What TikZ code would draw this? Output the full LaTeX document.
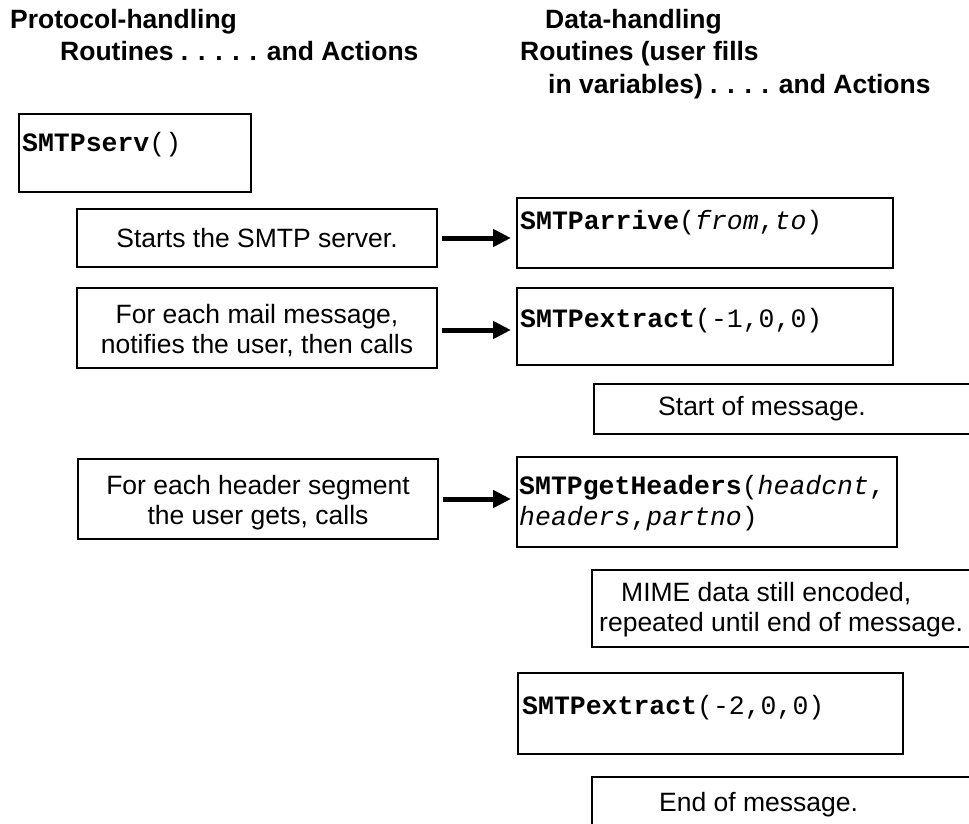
\documentclass[tikz,border=0pt]{standalone}
\usepackage{fontspec}
\setmainfont{Liberation Sans}
\newfontfamily\codefont{Liberation Mono}
\usetikzlibrary{arrows.meta}
\begin{document}
\begin{tikzpicture}[x=1pt,y=-1pt,
  box/.style={draw=black, line width=2pt, rectangle, inner sep=0pt, anchor=north west},
  body/.style={font=\fontsize{26.5}{30}\selectfont, inner sep=0pt},
  bodyl/.style={body, anchor=base west},
  head/.style={font=\fontsize{26.5}{33}\selectfont\bfseries, inner sep=0pt, anchor=base west},
  code/.style={font=\codefont\fontsize{26.5}{31}\selectfont, inner sep=0pt, anchor=base west},
  conn/.style={line width=5pt, -{Triangle[length=18pt,width=17pt]}, shorten <=4pt, shorten >=5pt}]
\useasboundingbox (0,0) rectangle (969,824);
\clip (0,0) rectangle (969,824);
\fill[white] (0,0) rectangle (969,824);

% headings
\node[head] (h1) at (10,29) {Protocol-handling};
\node[head] (h2) at (60,61) {Routines . . . . . and Actions};
\node[head] (h3) at (545,29) {Data-handling};
\node[head] (h4) at (520,61) {Routines (user fills};
\node[head] (h5) at (548,94) {in variables) . . . . and Actions};

% left column
\node[box, minimum width=232pt, minimum height=78pt] (serv) at (18,113) {};
\node[code] (servt) at (22,151) {\textbf{SMTPserv}()};

\node[box, minimum width=360pt, minimum height=58pt] (starts) at (76,208) {};
\node[body] (startst) at (starts) {Starts the SMTP server.};

\node[box, minimum width=360pt, minimum height=80pt] (foreach) at (76,287) {};
\node[body, align=center] (foreacht) at ([yshift=-3pt]foreach.center) {For each mail message,\\notifies the user, then calls};

\node[box, minimum width=360pt, minimum height=80pt] (header) at (77,458) {};
\node[body, align=center] (headert) at ([yshift=-4pt]header.center) {For each header segment\\the user gets, calls};

% right column
\node[box, minimum width=376pt, minimum height=70pt] (arrive) at (516,197) {};
\node[code] (arrivet) at (520,229) {\textbf{SMTParrive}(\textit{from},\textit{to})};

\node[box, minimum width=376pt, minimum height=77pt] (extracta) at (516,287) {};
\node[code] (extractat) at (520,327) {\textbf{SMTPextract}(-1,0,0)};

\node[box, minimum width=400pt, minimum height=50pt] (startmsg) at (593,383) {};
\node[bodyl] (startmsgt) at (658,415) {Start of message.};

\node[box, minimum width=380pt, minimum height=90pt] (gethead) at (516,456) {};
\node[code] (getheadta) at (519,494) {\textbf{SMTPgetHeaders}(\textit{headcnt},};
\node[code] (getheadtb) at (519,525) {\textit{headers},\textit{partno})};

\node[box, minimum width=400pt, minimum height=77pt] (mime) at (591,569) {};
\node[bodyl] (mimea) at (621,601) {MIME data still encoded,};
\node[bodyl] (mimeb) at (599,631) {repeated until end of message.};

\node[box, minimum width=385pt, minimum height=81pt] (extractb) at (517,672) {};
\node[code] (extractbt) at (522,714) {\textbf{SMTPextract}(-2,0,0)};

\node[box, minimum width=400pt, minimum height=70pt] (endmsg) at (591,776) {};
\node[bodyl] (endmsgt) at (659,811) {End of message.};

% connectors
\draw[conn] (starts.east) -- (starts.east -| arrive.west);
\draw[conn] ([yshift=-2pt]foreach.east) -- ([yshift=-2pt]foreach.east -| extracta.west);
\draw[conn] (header.east) -- (header.east -| gethead.west);
\end{tikzpicture}
\end{document}
